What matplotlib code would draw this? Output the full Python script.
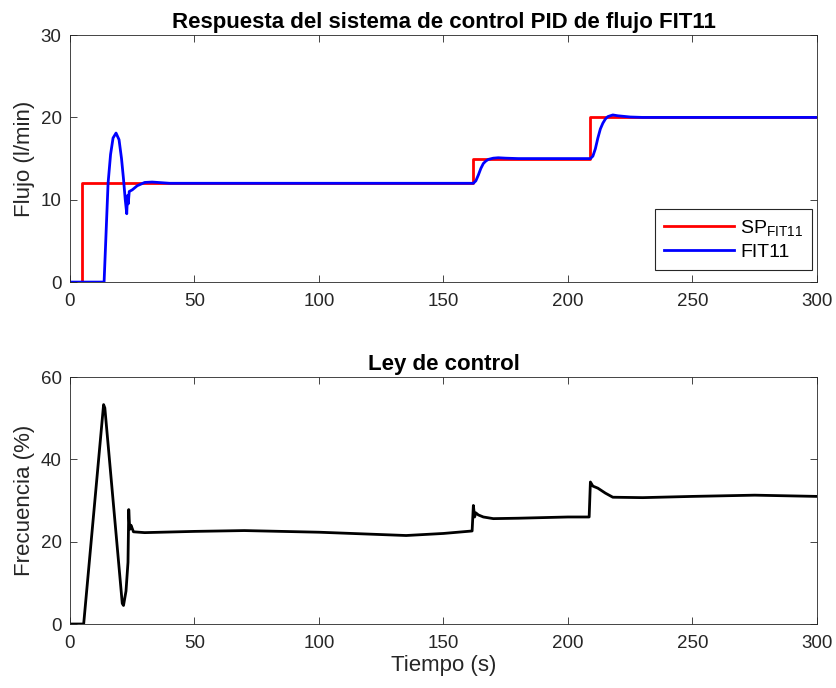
import matplotlib.pyplot as plt

plt.rcParams['font.family'] = ['Liberation Sans', 'DejaVu Sans']
plt.rcParams['mathtext.default'] = 'regular'

# setpoint (SP_FIT11)
t_sp = [0, 5, 5, 162, 162, 209, 209, 300]
sp = [0, 0, 12, 12, 15, 15, 20, 20]

# measured flow FIT11
t_fit = [0, 13.7, 14.5, 15.3, 16.3, 17.3, 18.5, 19.7, 20.7, 21.5, 22.2, 22.8,
         23.1, 23.4, 23.8, 25, 27, 30, 33, 40, 100, 162, 163, 164, 165, 166,
         167, 168, 170, 172, 175, 180, 209, 210, 211, 212, 213, 214, 215, 216,
         218, 220, 225, 230, 300]
fit = [0, 0, 6, 12, 15.5, 17.5, 18.1, 17.3, 15, 12.5, 10, 8.3,
       10.5, 9.5, 11, 11.2, 11.7, 12.1, 12.15, 12, 12, 12, 12.3, 13, 13.8, 14.4,
       14.7, 14.9, 15.05, 15.1, 15.05, 15, 15, 15.3, 16.2, 17.5, 18.6, 19.3, 19.8, 20.1,
       20.3, 20.2, 20.05, 20, 20]

# control law (frequency %)
t_u = [0, 5.5, 13.5, 14, 21, 21.5, 22.5, 23.3, 23.6, 24, 24.5, 25.5, 30, 50,
       70, 100, 135, 150, 161.5, 162, 162.5, 163, 164, 166, 170, 180, 200, 208.5,
       209, 210, 212, 215, 218, 230, 250, 275, 300]
u = [0, 0, 53.3, 52.5, 5, 4.5, 8, 15, 27.8, 23, 24, 22.4, 22.2, 22.5,
     22.7, 22.3, 21.5, 22, 22.6, 28.8, 26, 27, 26.5, 26, 25.6, 25.7, 26, 26,
     34.5, 33.5, 33, 31.8, 30.8, 30.7, 31, 31.3, 31]

fig = plt.figure(figsize=(8.37, 6.88), dpi=100)
ax1 = fig.add_axes([0.0836, 0.590, 0.8925, 0.359])
ax2 = fig.add_axes([0.0836, 0.093, 0.8925, 0.359])

ax1.plot(t_sp, sp, color='#ff0000', lw=2, label='SP$_{FIT11}$')
ax1.plot(t_fit, fit, color='#0000ff', lw=2, label='FIT11')
ax1.set_xlim(0, 300)
ax1.set_ylim(0, 30)
ax1.set_yticks([0, 10, 20, 30])
ax1.set_title('Respuesta del sistema de control PID de flujo FIT11',
              fontsize=16, fontweight='bold', pad=5)
ax1.set_ylabel('Flujo (l/min)', fontsize=16, color='#262626', labelpad=4)
leg = ax1.legend(loc='lower right', bbox_to_anchor=(0.993, 0.049), fontsize=14,
                 fancybox=False, edgecolor='#262626', framealpha=1,
                 handlelength=3.6, handletextpad=0.3, borderpad=0.45,
                 labelspacing=0.3, borderaxespad=0)
leg.get_frame().set_linewidth(0.8)

ax2.plot(t_u, u, color='black', lw=2)
ax2.set_xlim(0, 300)
ax2.set_ylim(0, 60)
ax2.set_yticks([0, 20, 40, 60])
ax2.set_title('Ley de control', fontsize=16, fontweight='bold', pad=5)
ax2.set_ylabel('Frecuencia (%)', fontsize=16, color='#262626', labelpad=4)
ax2.set_xlabel('Tiempo (s)', fontsize=16, color='#262626', labelpad=2)

for ax in (ax1, ax2):
    ax.tick_params(direction='in', top=True, right=True, labelsize=13.5,
                   colors='#262626', length=5, width=0.6)
    ax.tick_params(axis='x', pad=8)
    ax.tick_params(axis='y', pad=6)
    for s in ax.spines.values():
        s.set_color('#262626')
        s.set_linewidth(0.6)

fig.savefig('out.png', dpi=100)
